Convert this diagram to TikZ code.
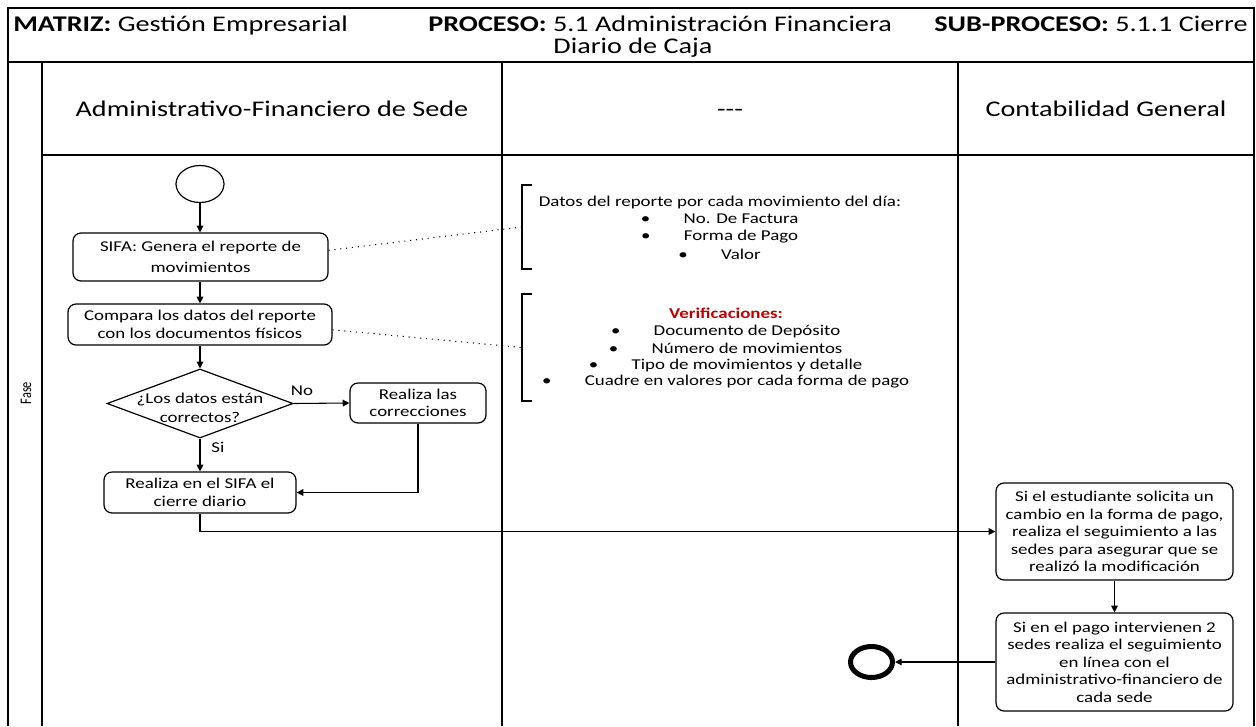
\documentclass[tikz,border=0pt]{standalone}
\usepackage{fontspec}
\setmainfont{Carlito}[FakeStretch=1.26]
\newfontfamily\fasefont{Carlito}
\usetikzlibrary{shapes.geometric,arrows.meta}
\definecolor{verifred}{HTML}{C00000}
\newcommand\boxfont{\fontsize{11.25}{13.1}\selectfont}
\newcommand\titlefont{\fontsize{16.8}{18}\selectfont}
\newcommand\lanefont{\fontsize{16.8}{18}\selectfont}
\newcommand\bitem[1]{\makebox[0pt]{\textbullet}\hspace{28.5pt}#1}

\begin{document}
\begin{tikzpicture}[x=0.75pt,y=-0.75pt,
  frame/.style={line width=1.1pt},
  stepbox/.style={draw, rounded corners=6pt, line width=0.9pt, align=center,
    inner sep=0pt, font=\boxfont},
  note/.style={inner sep=0pt, font=\boxfont},
  flow/.style={line width=0.8pt, -{Triangle[length=5pt,width=5pt]}},
  link/.style={line width=0.8pt, dash pattern=on 0.8pt off 3.6pt},
  bracket/.style={line width=0.9pt},
  lbl/.style={inner sep=0pt, font=\boxfont},
  head/.style={inner sep=0pt, font=\titlefont, anchor=base west},
  lanehead/.style={inner sep=0pt, font=\lanefont, anchor=base}]

\useasboundingbox (0,0) rectangle (1256,726);

% pool frame and lanes
\draw[frame] (8,726) -- (8,8) -- (1254,8) -- (1254,726);
\draw[frame] (8,62) -- (1254,62);
\draw[frame] (42,62) -- (42,726);
\draw[frame] (42,155) -- (1254,155);
\draw[frame] (502,62) -- (502,726);
\draw[frame] (958,62) -- (958,726);

% title block
\node[head] (mat) at (13,31) {\textbf{MATRIZ:} Gestión Empresarial};
\node[head] (pro) at (428,31) {\textbf{PROCESO:} 5.1 Administración Financiera};
\node[head] (sub) at (934,31) {\textbf{SUB-PROCESO:} 5.1.1 Cierre};
\node[head, anchor=base] (caja) at (633,53) {Diario de Caja};

% lane headers
\node[lanehead] (lane1) at (272,116) {Administrativo-Financiero de Sede};
\node[lanehead] (lane2) at (730,116) {-{}-{}-};
\node[lanehead] (lane3) at (1106,116) {Contabilidad General};
\node[rotate=90, inner sep=0pt] (fase) at (26,393) {\fasefont\fontsize{9.3}{10}\selectfont\scalebox{1}[1.3]{Fase}};

% flow nodes
\node[ellipse, draw, line width=0.9pt, minimum width=48*0.75pt, minimum height=37*0.75pt, inner sep=0pt] (start) at (200,184) {};
\node[stepbox, minimum width=255*0.75pt, minimum height=48*0.75pt] (rep) at (200.5,257)
  {SIFA: Genera el reporte de\\[3pt]movimientos};
\node[stepbox, minimum width=264*0.75pt, minimum height=41*0.75pt] (cmp) at (200,324.5)
  {Compara los datos del reporte\\con los documentos físicos};
\node[diamond, draw, line width=0.9pt, minimum width=186*0.75pt, minimum height=69*0.75pt, inner sep=0pt] (dec) at (200,403.5) {};
\node[lbl, align=center] (dectxt) at (200,408) {¿Los datos están\\[1.3pt]correctos?};
\node[stepbox, minimum width=136*0.75pt, minimum height=40*0.75pt] (cor) at (418,403)
  {Realiza las\\correcciones};
\node[stepbox, minimum width=192*0.75pt, minimum height=41*0.75pt] (cie) at (200,492.5)
  {Realiza en el SIFA el\\cierre diario};
\node[stepbox, minimum width=237*0.75pt, minimum height=97*0.75pt] (seg) at (1114.5,531.5)
  {Si el estudiante solicita un\\cambio en la forma de pago,\\realiza el seguimiento a las\\sedes para asegurar que se\\realizó la modificación};
\node[stepbox, minimum width=237*0.75pt, minimum height=98*0.75pt] (lin) at (1114.5,662)
  {Si en el pago intervienen 2\\sedes realiza el seguimiento\\en línea con el\\administrativo-financiero de\\cada sede};
\node[ellipse, draw, line width=3.75pt, minimum width=42*0.75pt, minimum height=31*0.75pt, inner sep=0pt] (fin) at (871.5,662) {};

% annotations
\draw[bracket] (532,185) -- (522,185) -- (522,269) -- (532,269);
\coordinate (br1) at (522,227);
\node[note] (dat) at (720,202) {Datos del reporte por cada movimiento del día:};
\node[note] (it1) at (722,219) {\bitem{No. De Factura}};
\node[note] (it2) at (722,237) {\bitem{Forma de Pago}};
\node[note] (it3) at (722,254) {\bitem{Valor}};

\draw[bracket] (532,294) -- (522,294) -- (522,401) -- (532,401);
\coordinate (br2) at (522,347.5);
\node[note, text=verifred, font=\boxfont\bfseries] (ver) at (726,313) {Verificaciones:};
\node[note] (v1) at (728,331) {\bitem{Documento de Depósito}};
\node[note] (v2) at (728,348) {\bitem{Número de movimientos}};
\node[note] (v3) at (728,365) {\bitem{Tipo de movimientos y detalle}};
\node[note] (v4) at (728,382) {\bitem{Cuadre en valores por cada forma de pago}};

\draw[link] ([yshift=5pt]rep.east) -- (br1);
\draw[link] ([yshift=-4pt]cmp.east) -- (br2);

% connectors
\draw[flow] (start) -- (start |- rep.north);
\draw[flow] (rep.south -| cmp.north) -- (cmp.north);
\draw[flow] (cmp.south) -- (dec.north);
\draw[flow] (dec.east) -- (cor.west);
\node[lbl] (no) at (302,391) {No};
\draw[flow] (dec.south) -- (cie.north);
\node[lbl] (si) at (218,447) {Si};
\draw[flow] (cor.south) |- (cie.east);
\draw[flow] (cie.south) |- (seg.west);
\draw[flow] (seg.south) -- (lin.north);
\draw[flow] (lin.west) -- (fin.east);

\end{tikzpicture}
\end{document}
